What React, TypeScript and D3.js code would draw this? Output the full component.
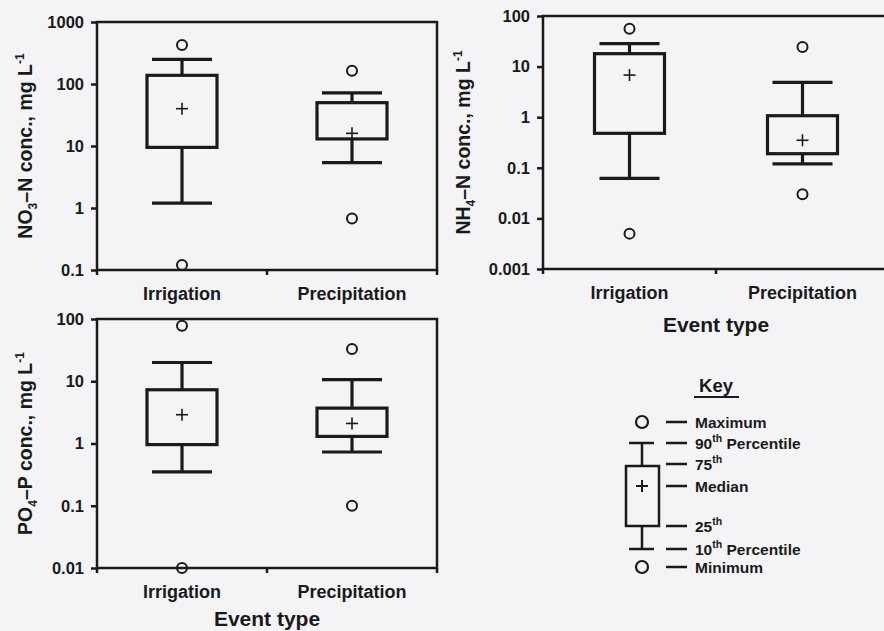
import React, { useEffect, useRef } from 'react';
import * as d3 from 'd3';

// Stats per box: [min, p10, p25, median, p75, p90, max]
const categories = ['Irrigation', 'Precipitation'];

const no3Irrigation = [0.12, 1.2, 9.5, 40, 138, 250, 425];
const no3Precipitation = [0.68, 5.4, 13, 16, 50, 72, 164];

const nh4Irrigation = [0.005, 0.062, 0.48, 6.8, 18, 28.5, 56];
const nh4Precipitation = [0.03, 0.12, 0.19, 0.35, 1.07, 4.9, 24.5];

const po4Irrigation = [0.01, 0.35, 0.96, 2.9, 7.3, 20, 78];
const po4Precipitation = [0.1, 0.73, 1.3, 2.1, 3.7, 10.6, 33];

const no3Ticks = [0.1, 1, 10, 100, 1000];
const nh4Ticks = [0.001, 0.01, 0.1, 1, 10, 100];
const po4Ticks = [0.01, 0.1, 1, 10, 100];

const keyLabels = [
  { main: 'Maximum', sup: '', rest: '' },
  { main: '90', sup: 'th', rest: ' Percentile' },
  { main: '75', sup: 'th', rest: '' },
  { main: 'Median', sup: '', rest: '' },
  { main: '25', sup: 'th', rest: '' },
  { main: '10', sup: 'th', rest: ' Percentile' },
  { main: 'Minimum', sup: '', rest: '' }
];

const INK = '#1a1a1a';
const FONT = '"Liberation Sans", Arial, sans-serif';

interface PanelSpec {
  x0: number;
  x1: number;
  y0: number;
  y1: number;
  ticks: number[];
  series: number[][];
  chem: string;
  sub: string;
  rest: string;
  titleY: number | null;
  labelX: number;
}

const panels: PanelSpec[] = [
  { x0: 97, x1: 437, y0: 22, y1: 270, ticks: no3Ticks, series: [no3Irrigation, no3Precipitation],
    chem: 'NO', sub: '3', rest: '\u2013N conc., mg L', titleY: null, labelX: 32 },
  { x0: 543, x1: 889, y0: 16, y1: 269, ticks: nh4Ticks, series: [nh4Irrigation, nh4Precipitation],
    chem: 'NH', sub: '4', rest: '\u2013N conc., mg L', titleY: 332, labelX: 470 },
  { x0: 97, x1: 437, y0: 319, y1: 568, ticks: po4Ticks, series: [po4Irrigation, po4Precipitation],
    chem: 'PO', sub: '4', rest: '\u2013P conc., mg L', titleY: 626, labelX: 32 }
];

const App: React.FC = () => {
  const svgRef = useRef<SVGSVGElement>(null);

  useEffect(() => {
    const svg = d3.select(svgRef.current);
    svg.selectAll('*').remove();

    svg.append('rect').attr('width', 884).attr('height', 631).attr('fill', '#f4f4f6');

    panels.forEach(p => {
      const g = svg.append('g');
      const y = d3.scaleLog()
        .domain([p.ticks[0], p.ticks[p.ticks.length - 1]])
        .range([p.y1, p.y0]);
      const x = d3.scalePoint<string>()
        .domain(categories)
        .range([p.x0, p.x1])
        .padding(0.5);

      // frame
      g.append('rect')
        .attr('x', p.x0).attr('y', p.y0)
        .attr('width', p.x1 - p.x0).attr('height', p.y1 - p.y0)
        .attr('fill', 'none').attr('stroke', INK).attr('stroke-width', 2.5);

      // y axis
      const yAxis = g.append('g')
        .attr('transform', `translate(${p.x0},0)`)
        .call(d3.axisLeft(y).tickValues(p.ticks).tickFormat(d => String(d)).tickSize(6).tickPadding(7));
      yAxis.select('.domain').remove();
      yAxis.selectAll('line').attr('stroke', INK).attr('stroke-width', 2.5);
      yAxis.selectAll('text')
        .attr('fill', INK).style('font-family', FONT).style('font-weight', 'bold').style('font-size', '16.5px');

      // x axis ticks (ends + middle) and labels
      const mid = (p.x0 + p.x1) / 2;
      [p.x0, mid, p.x1].forEach(tx => {
        g.append('line')
          .attr('x1', tx).attr('x2', tx).attr('y1', p.y1).attr('y2', p.y1 + 5)
          .attr('stroke', INK).attr('stroke-width', 2.5);
      });
      categories.forEach(c => {
        g.append('text')
          .attr('x', x(c)!).attr('y', p.y1 + 30)
          .attr('text-anchor', 'middle')
          .attr('fill', INK)
          .style('font-family', FONT).style('font-weight', 'bold').style('font-size', '18px')
          .text(c);
      });

      if (p.titleY !== null) {
        g.append('text')
          .attr('x', mid).attr('y', p.titleY)
          .attr('text-anchor', 'middle')
          .attr('fill', INK)
          .style('font-family', FONT).style('font-weight', 'bold').style('font-size', '21px')
          .text('Event type');
      }

      // y label
      const yl = g.append('text')
        .attr('transform', `translate(${p.labelX},${(p.y0 + p.y1) / 2}) rotate(-90)`)
        .attr('text-anchor', 'middle')
        .attr('fill', INK)
        .style('font-family', FONT).style('font-weight', 'bold').style('font-size', '19.5px');
      yl.append('tspan').text(p.chem);
      yl.append('tspan').attr('dy', 5).style('font-size', '12px').text(p.sub);
      yl.append('tspan').attr('dy', -5).text(p.rest);
      yl.append('tspan').attr('dy', -8).style('font-size', '12px').text('-1');

      // boxes
      const boxW = 70;
      const capW = 60;
      categories.forEach((c, i) => {
        const s = p.series[i];
        const cx = x(c)!;
        const [mn, p10, p25, med, p75, p90, mx] = s;
        const line = (x1: number, y1: number, x2: number, y2: number, w = 3.2) =>
          g.append('line')
            .attr('x1', x1).attr('y1', y1).attr('x2', x2).attr('y2', y2)
            .attr('stroke', INK).attr('stroke-width', w);

        line(cx, y(p90), cx, y(p75));
        line(cx, y(p25), cx, y(p10));
        line(cx - capW / 2, y(p90), cx + capW / 2, y(p90));
        line(cx - capW / 2, y(p10), cx + capW / 2, y(p10));

        g.append('rect')
          .attr('x', cx - boxW / 2).attr('y', y(p75))
          .attr('width', boxW).attr('height', y(p25) - y(p75))
          .attr('fill', 'none').attr('stroke', INK).attr('stroke-width', 3.2);

        line(cx - 6, y(med), cx + 6, y(med), 1.6);
        line(cx, y(med) - 6, cx, y(med) + 6, 1.6);

        [mn, mx].forEach(v => {
          g.append('circle')
            .attr('cx', cx).attr('cy', y(v)).attr('r', 5)
            .attr('fill', 'none').attr('stroke', INK).attr('stroke-width', 2);
        });
      });
    });

    // Key
    const k = svg.append('g');
    k.append('text')
      .attr('x', 716).attr('y', 392)
      .attr('text-anchor', 'middle').attr('fill', INK)
      .style('font-family', FONT).style('font-weight', 'bold').style('font-size', '18.5px')
      .text('Key');
    k.append('line').attr('x1', 694).attr('x2', 739).attr('y1', 397).attr('y2', 397)
      .attr('stroke', INK).attr('stroke-width', 2);

    const kx = 642;
    const rows = [422, 443, 464, 486, 526, 549, 567];
    const kline = (x1: number, y1: number, x2: number, y2: number, w = 2.5) =>
      k.append('line').attr('x1', x1).attr('y1', y1).attr('x2', x2).attr('y2', y2)
        .attr('stroke', INK).attr('stroke-width', w);

    k.append('circle').attr('cx', kx).attr('cy', rows[0]).attr('r', 6)
      .attr('fill', 'none').attr('stroke', INK).attr('stroke-width', 2.2);
    k.append('circle').attr('cx', kx).attr('cy', rows[6]).attr('r', 6)
      .attr('fill', 'none').attr('stroke', INK).attr('stroke-width', 2.2);
    kline(629, rows[1], 654, rows[1]);
    kline(kx, rows[1], kx, 466);
    k.append('rect').attr('x', 626).attr('y', 466).attr('width', 33).attr('height', 60)
      .attr('fill', 'none').attr('stroke', INK).attr('stroke-width', 2.5);
    kline(kx - 6, rows[3], kx + 6, rows[3], 2);
    kline(kx, rows[3] - 6, kx, rows[3] + 6, 2);
    kline(kx, 526, kx, rows[5]);
    kline(629, rows[5], 654, rows[5]);

    keyLabels.forEach((lab, i) => {
      kline(666, rows[i], 687, rows[i]);
      const t = k.append('text')
        .attr('x', 695).attr('y', rows[i] + 5.5)
        .attr('fill', INK)
        .style('font-family', FONT).style('font-weight', 'bold').style('font-size', '15.5px');
      t.append('tspan').text(lab.main);
      if (lab.sup) {
        t.append('tspan').attr('dy', -7).style('font-size', '10.5px').text(lab.sup);
        if (lab.rest) t.append('tspan').attr('dy', 7).text(lab.rest);
      }
    });
  }, []);

  return (
    <svg
      ref={svgRef}
      width={884}
      height={631}
      style={{ position: 'absolute', left: 0, top: 0 }}
    />
  );
};

export default App;
